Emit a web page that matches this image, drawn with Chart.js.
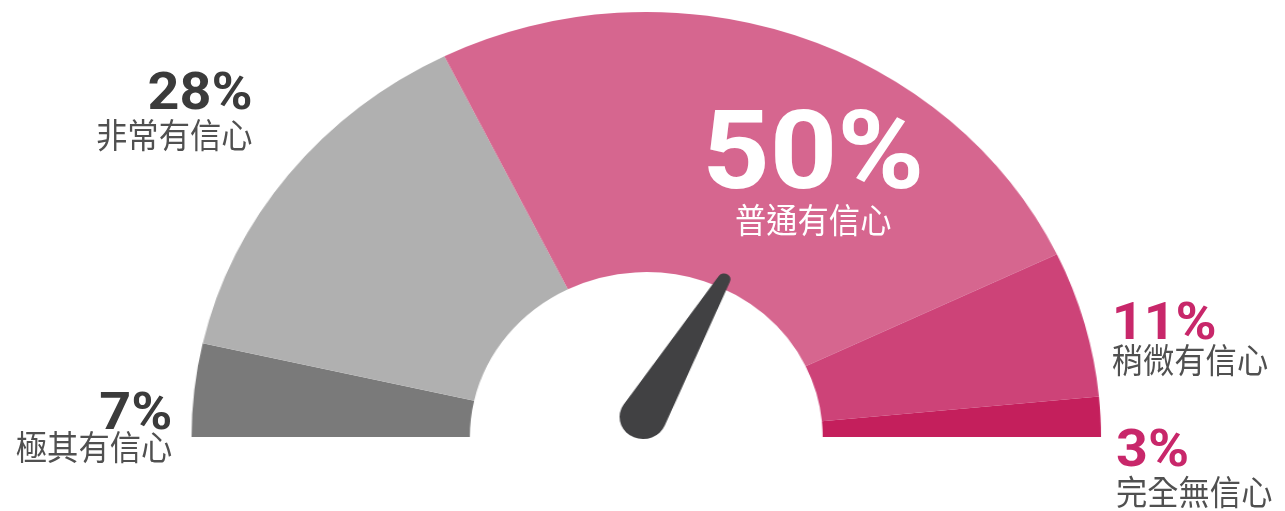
<!DOCTYPE html>
<html lang="zh-Hant">
<head>
<meta charset="utf-8">
<title>信心程度</title>
<script src="https://cdn.jsdelivr.net/npm/chart.js@4.4.1/dist/chart.umd.min.js"></script>
<style>
  html, body { margin: 0; padding: 0; background: #fff; overflow: hidden; }
  /* 儀表整體略為橫向拉寬 */
  .gauge { position: relative; width: 1201px; height: 511px; transform: scaleX(1.07); transform-origin: 0 0; }
  .gauge canvas { position: absolute; left: 0; top: 0; }
  .lbl { position: absolute; white-space: nowrap; line-height: 1; }
  .num { font-family: Roboto, "Liberation Sans", sans-serif; font-weight: 700; font-size: 52px; }
  .num.big { font-size: 110px; }
  .txt { font-family: "Noto Sans CJK TC", "Noto Sans CJK SC", sans-serif; font-size: 34px; color: #505050; }
</style>
</head>
<body>
<div class="gauge" id="gauge">
  <canvas id="chart-confianza" width="1201" height="511"></canvas>
</div>
<script>
// ---- 資料 ----
var categories = ['極其有信心', '非常有信心', '普通有信心', '稍微有信心', '完全無信心'];
var percentages = [7, 28, 50, 11, 3];
var needleValue = 66; // 指針位置（刻度的百分比）

// ---- 顏色 ----
var sliceColors = ['#7a7a7a', '#b0b0b0', '#d6668f', '#cd4378', '#c41f5c'];
var grisOscuro = '#3b3b3b';
var rosa = '#c8276a';

// ---- 標籤位置（與畫布同座標；right 對齊時 x 為右緣） ----
var labelLayout = [
  { align: 'right', x: 161, numTop: 386, txtTop: 429, color: grisOscuro, txtColor: '#505050' },
  { align: 'right', x: 236, numTop: 66, txtTop: 117, color: grisOscuro, txtColor: '#505050' },
  { align: 'center', x: 760, numTop: 96, txtTop: 202, color: '#fff', txtColor: '#fff', big: true },
  { align: 'left', x: 1039, numTop: 296, txtTop: 342, color: rosa, txtColor: '#505050' },
  { align: 'left', x: 1043, numTop: 423, txtTop: 474, color: rosa, txtColor: '#505050' }
];

function placeLabel(el, lay, top, squeeze) {
  el.style.top = top + 'px';
  if (lay.align === 'right') {
    el.style.right = (1201 - lay.x) + 'px';
    el.style.transformOrigin = '100% 0';
  } else if (lay.align === 'left') {
    el.style.left = lay.x + 'px';
    el.style.transformOrigin = '0 0';
  } else {
    el.style.left = (lay.x - 200) + 'px';
    el.style.width = '400px';
    el.style.textAlign = 'center';
    el.style.transformOrigin = '50% 0';
  }
  if (squeeze) el.style.transform = 'scaleX(0.86)';
}

var gauge = document.getElementById('gauge');
categories.forEach(function (cat, i) {
  var lay = labelLayout[i];
  var num = document.createElement('div');
  num.className = 'lbl num' + (lay.big ? ' big' : '');
  num.style.color = lay.color;
  num.textContent = percentages[i] + '%';
  placeLabel(num, lay, lay.numTop, false);
  gauge.appendChild(num);

  var txt = document.createElement('div');
  txt.className = 'lbl txt';
  txt.style.color = lay.txtColor;
  txt.textContent = cat;
  placeLabel(txt, lay, lay.txtTop, true);
  gauge.appendChild(txt);
});

// ---- 指針 ----
var needlePlugin = {
  id: 'needle',
  afterDatasetsDraw: function (chart) {
    var arc = chart.getDatasetMeta(0).data[0];
    if (!arc) return;
    var ctx = chart.ctx;
    var ang = Math.PI * (1 - needleValue / 100);
    var R = 22, r = 6, len = 157;
    var beta = Math.acos((R - r) / len);
    ctx.save();
    ctx.translate(arc.x - 3, arc.y - 20);
    ctx.rotate(-ang);
    ctx.beginPath();
    ctx.arc(0, 0, R, beta, -beta);
    ctx.lineTo(len + r * Math.cos(beta), -r * Math.sin(beta));
    ctx.arc(len, 0, r, -beta, beta);
    ctx.closePath();
    ctx.fillStyle = '#414143';
    ctx.fill();
    ctx.restore();
  }
};

new Chart(document.getElementById('chart-confianza'), {
  type: 'doughnut',
  data: {
    labels: categories,
    datasets: [{
      data: percentages,
      backgroundColor: sliceColors,
      borderWidth: 0
    }]
  },
  options: {
    responsive: false,
    animation: false,
    events: [],
    rotation: -90,
    circumference: 180,
    cutout: '38.8%',
    layout: { padding: { top: 12, bottom: 74, left: 179, right: 172 } },
    plugins: {
      legend: { display: false },
      tooltip: { enabled: false }
    }
  },
  plugins: [needlePlugin]
});
</script>
</body>
</html>
